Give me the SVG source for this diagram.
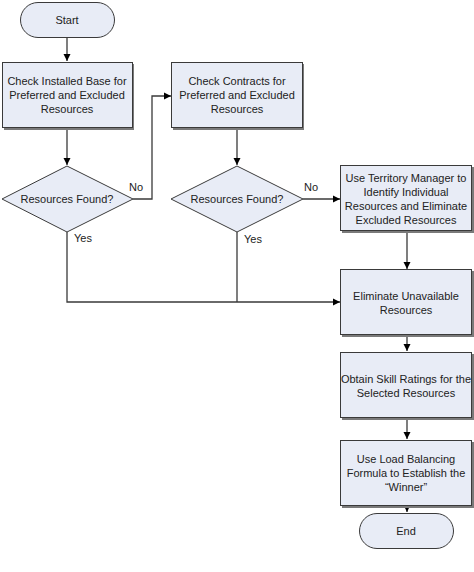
<svg xmlns="http://www.w3.org/2000/svg" width="474" height="572" viewBox="0 0 474 572">
<defs>
<marker id="arr" markerWidth="8" markerHeight="8" refX="7" refY="4" orient="auto" markerUnits="userSpaceOnUse">
<path d="M0,0.5 L7,4 L0,7.5 Z" fill="#000"/>
</marker>
<style>
.shape{fill:#E8ECF6;stroke:#3a3a3a;stroke-width:1}
.shadow{fill:#7a7a7a}
.t{font-family:"Liberation Sans",Arial,sans-serif;font-size:11px;fill:#222;text-anchor:middle}
.l{font-family:"Liberation Sans",Arial,sans-serif;font-size:11px;fill:#222}
.c{fill:none;stroke:#3a3a3a;stroke-width:1.3}
</style>
</defs>
<rect width="474" height="572" fill="#fff"/>
<g id="connectors">
<path class="c" d="M67,37 V61" marker-end="url(#arr)"/>
<path class="c" d="M67,128 V165" marker-end="url(#arr)"/>
<path class="c" d="M133,199 H152 V96 H171" marker-end="url(#arr)"/>
<path class="c" d="M237,128 V165" marker-end="url(#arr)"/>
<path class="c" d="M303,199 H340" marker-end="url(#arr)"/>
<path class="c" d="M67,232 V302 H340" marker-end="url(#arr)"/>
<path class="c" d="M237,232 V302"/>
<path class="c" d="M407,232 V269" marker-end="url(#arr)"/>
<path class="c" d="M407,335 V351" marker-end="url(#arr)"/>
<path class="c" d="M407,418 V439" marker-end="url(#arr)"/>
<path class="c" d="M407,506 V512" marker-end="url(#arr)"/>
<text class="l" x="129" y="191">No</text>
<text class="l" x="304" y="191">No</text>
<text class="l" x="74" y="242">Yes</text>
<text class="l" x="244" y="243">Yes</text>
</g>
<g id="start">
<rect x="20.5" y="2.5" width="94" height="35" rx="17.5" class="shape"/>
<text class="t" x="67" y="24">Start</text>
</g>
<g id="box1">
<rect x="4" y="64" width="130" height="66" class="shadow"/>
<rect x="2.5" y="62.5" width="130" height="65" class="shape"/>
<text class="t" x="67" y="85">Check Installed Base for</text>
<text class="t" x="67" y="99">Preferred and Excluded</text>
<text class="t" x="67" y="113">Resources</text>
</g>
<g id="box2">
<rect x="173" y="64" width="131" height="66" class="shadow"/>
<rect x="171.5" y="62.5" width="131" height="65" class="shape"/>
<text class="t" x="237" y="85">Check Contracts for</text>
<text class="t" x="237" y="99">Preferred and Excluded</text>
<text class="t" x="237" y="113">Resources</text>
</g>
<g id="decision1">
<polygon points="67,166 133,199 67,232 2,199" class="shape"/>
<text class="t" x="67" y="203">Resources Found?</text>
</g>
<g id="decision2">
<polygon points="237,166 303,199 237,232 171,199" class="shape"/>
<text class="t" x="237" y="203">Resources Found?</text>
</g>
<g id="box3">
<rect x="342" y="167" width="132" height="66" class="shadow"/>
<rect x="340.5" y="165.5" width="131" height="65" class="shape"/>
<text class="t" x="406" y="182">Use Territory Manager to</text>
<text class="t" x="406" y="196">Identify Individual</text>
<text class="t" x="406" y="210">Resources and Eliminate</text>
<text class="t" x="406" y="224">Excluded Resources</text>
</g>
<g id="box4">
<rect x="342" y="271" width="132" height="66" class="shadow"/>
<rect x="340.5" y="269.5" width="131" height="65" class="shape"/>
<text class="t" x="406" y="300">Eliminate Unavailable</text>
<text class="t" x="406" y="314">Resources</text>
</g>
<g id="box5">
<rect x="342" y="354" width="132" height="66" class="shadow"/>
<rect x="340.5" y="352.5" width="131" height="65" class="shape"/>
<text class="t" x="406" y="383">Obtain Skill Ratings for the</text>
<text class="t" x="406" y="397">Selected Resources</text>
</g>
<g id="box6">
<rect x="342" y="442" width="132" height="66" class="shadow"/>
<rect x="340.5" y="440.5" width="131" height="65" class="shape"/>
<text class="t" x="406" y="463">Use Load Balancing</text>
<text class="t" x="406" y="477">Formula to Establish the</text>
<text class="t" x="406" y="491">“Winner”</text>
</g>
<g id="end">
<rect x="359.5" y="513.5" width="94" height="35" rx="17.5" class="shape"/>
<text class="t" x="406" y="535">End</text>
</g>
</svg>
